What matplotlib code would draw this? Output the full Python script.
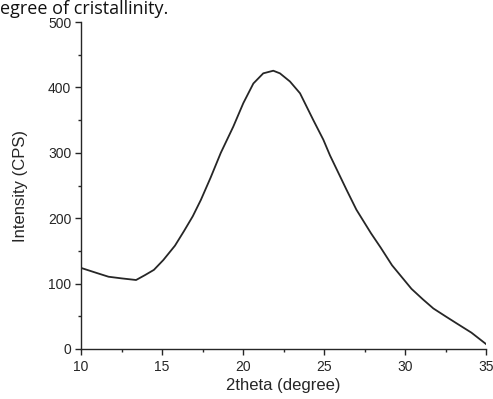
import matplotlib.pyplot as plt
from matplotlib.ticker import MultipleLocator

# values
two_theta = [10, 11, 11.7, 12.5, 13.4, 13.95, 14.5, 15.08, 15.8, 16.35, 16.9, 17.4,
             18.0, 18.63, 19.4, 20.02, 20.64, 21.25, 21.87, 22.28, 22.9, 23.52,
             24.34, 24.96, 25.37, 26.4, 27.0, 27.9, 28.5, 29.2, 29.8, 30.4, 31.1,
             31.75, 32.5, 33.2, 34.1, 35.0]
intensity = [124, 116, 110.5, 108, 105.5, 113, 121, 136, 158, 180, 203, 228,
             262, 300, 340, 376, 406, 421.5, 425.5, 421.5, 409, 391,
             350, 320, 296, 243, 213, 177, 155, 128, 110, 92, 76,
             62, 50, 39, 25, 7.6]
x_ticks = [10, 15, 20, 25, 30, 35]
y_ticks = [0, 100, 200, 300, 400, 500]

plt.rcParams['font.family'] = ['Liberation Sans', 'DejaVu Sans']
ink = '#262626'

fig = plt.figure(figsize=(4.93, 3.99), dpi=100)
ax = fig.add_axes([81 / 493, 50 / 399, 405 / 493, 327 / 399])

ax.plot(two_theta, intensity, color=ink, linewidth=1.3)

ax.set_xlim(10, 35)
ax.set_ylim(0, 500)
ax.set_xticks(x_ticks)
ax.set_yticks(y_ticks)
ax.xaxis.set_minor_locator(MultipleLocator(2.5))
ax.yaxis.set_minor_locator(MultipleLocator(50))

for side in ['top', 'right']:
    ax.spines[side].set_visible(False)
for side in ['left', 'bottom']:
    ax.spines[side].set_color(ink)
    ax.spines[side].set_linewidth(1.0)

ax.tick_params(which='major', direction='out', length=4, width=1, color=ink,
               labelsize=10, labelcolor=ink)
ax.tick_params(axis='x', which='major', pad=4)
ax.tick_params(axis='y', which='major', pad=3)
ax.tick_params(which='minor', direction='out', length=2.5, width=1, color=ink)

ax.set_xlabel('2theta (degree)', fontsize=12, color=ink, labelpad=3)
ax.set_ylabel('Intensity (CPS)', fontsize=12, color=ink, labelpad=14)

# cut-off caption of the surrounding document
fig.text(0, 1 - 13.5 / 399, 'egree of cristallinity.', ha='left', va='baseline',
         fontsize=13, color='#111111', family=['Open Sans', 'DejaVu Sans'])

fig.savefig('out.png', dpi=100)
